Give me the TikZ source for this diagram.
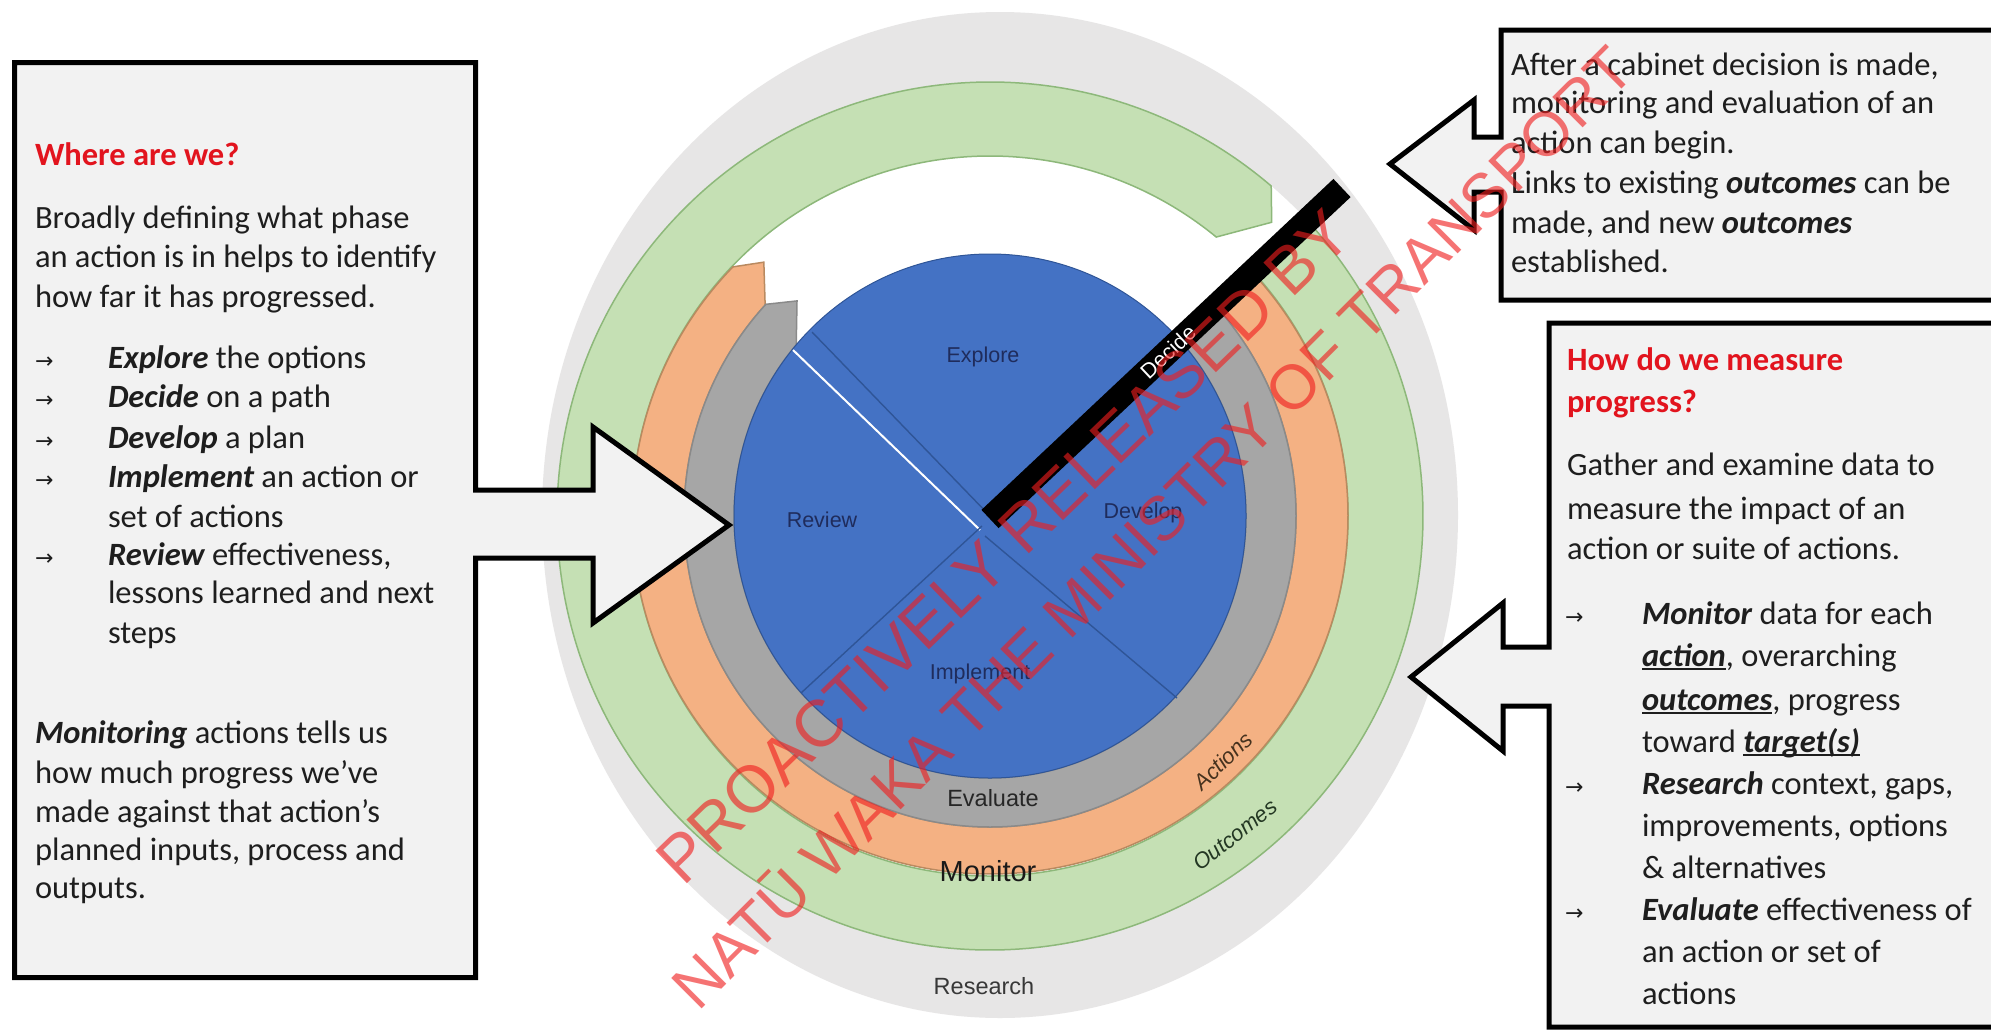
\documentclass[tikz,border=0pt]{standalone}
\usepackage{fontspec}
\setmainfont{Carlito}
\newfontfamily\arialf{Liberation Sans}
\newfontfamily\arrowf{DejaVu Sans}
\definecolor{boxfill}{HTML}{F2F2F2}
\definecolor{resgrey}{HTML}{E7E6E6}
\definecolor{outgreen}{HTML}{C5E0B4}
\definecolor{outgreenb}{HTML}{8DB87A}
\definecolor{actorange}{HTML}{F4B183}
\definecolor{actorangeb}{HTML}{B98A60}
\definecolor{evgrey}{HTML}{A6A6A6}
\definecolor{evgreyb}{HTML}{8A8A8A}
\definecolor{phblue}{HTML}{4472C4}
\definecolor{phblueb}{HTML}{2F5597}
\definecolor{navy}{HTML}{1F2C5C}
\definecolor{headred}{HTML}{E2141E}
\definecolor{bodytxt}{HTML}{1E1E1E}
\definecolor{wmred}{HTML}{F01E1E}
\newlength\ulw
\newcommand\myul[1]{\settowidth\ulw{#1}\rlap{\rule[-4pt]{\ulw}{2.2pt}}#1}
\newcommand\bi[1]{{\bfseries\itshape #1}}
\tikzset{
  txt/.style={anchor=base west, inner sep=0pt, outer sep=0pt, text=bodytxt, font=\fontsize{32.5}{39}\selectfont},
  hd/.style={txt, text=headred, font=\fontsize{32.5}{39}\selectfont\bfseries},
  arw/.style={anchor=base west, inner sep=0pt, text=bodytxt, font=\arrowf\fontsize{22}{26}\selectfont},
  phase/.style={inner sep=0pt, text=navy, font=\arialf\fontsize{21.5}{26}\selectfont},
  ringlab/.style={inner sep=0pt, font=\arialf\fontsize{23.5}{28}\selectfont},
  wm/.style={anchor=base, inner sep=0pt, text=wmred, text opacity=0.62, font=\arialf\fontsize{64}{70}\selectfont},
  boxline/.style={draw=black, line width=5pt, fill=boxfill, line join=miter, miter limit=10},
  ringedge/.style={line width=1.5pt, line join=miter}
}
\begin{document}
\begin{tikzpicture}[x=1pt,y=1pt]
\fill[white] (0,0) rectangle (1991,-1031);
\useasboundingbox (0,0) rectangle (1991,-1031);
\clip (0,0) rectangle (1991,-1031);

% Research ellipse
\fill[resgrey] (1000,-515) ellipse [x radius=458, y radius=503];

\begin{scope}[shift={(990,-516)}]
  % white interior
  \fill[white] (0,0) ellipse [x radius=433, y radius=434];
  % Outcomes ring (green)
  \path[ringedge, fill=outgreen, draw=outgreenb]
    (49.5:433 and 434) arc[start angle=49.5, end angle=403, x radius=433, y radius=434]
    -- (403:358 and 360) arc[start angle=403, end angle=50.8, x radius=358, y radius=360]
    -- (46.2:407) -- cycle;
  % Actions ring (orange)
  \path[ringedge, fill=actorange, draw=actorangeb]
    (135.9:358 and 358) arc[start angle=135.9, end angle=403, x radius=358, y radius=358]
    -- (403:306 and 311) arc[start angle=403, end angle=137.3, x radius=306, y radius=311]
    -- (131.7:340) -- cycle;
  % Evaluate ring (grey)
  \path[ringedge, fill=evgrey, draw=evgreyb]
    (137.1:306 and 311) arc[start angle=137.1, end angle=403, x radius=306, y radius=311]
    -- (403:256 and 262) arc[start angle=403, end angle=139.2, x radius=256, y radius=262]
    -- (131.9:289) -- cycle;
  % Phase disc
  \fill[phblue] (0,0) ellipse [x radius=256, y radius=262];
  \draw[phblueb, line width=1pt] (0,0) ellipse [x radius=256, y radius=262];
  \draw[phblueb, line width=1.4pt] (-178,184) -- (0,0);
  \draw[white, line width=2pt] (-197,166) -- (-10,-14);
  \draw[phblueb, line width=1.4pt] (-8,-10) -- (-189,-177);
  \draw[phblueb, line width=1.4pt] (-5,-20) -- (187,-182);
  % Decide bar
  \draw[black, line width=25pt] (0,-3) -- (352,328);
\end{scope}

% labels in the circle
\node[phase] (explore) at (983,-357) {Explore};
\node[phase] (review) at (822,-520) {Review};
\node[phase] (develop) at (1143,-513) {Develop};
\node[phase] (implement) at (980,-674) {Implement};
\node[inner sep=0pt, text=white, rotate=43.2, font=\arialf\fontsize{21.5}{25}\selectfont] (decide) at (1168,-352) {Decide};
\node[ringlab, text=black!85] (evaluate) at (993,-798) {Evaluate};
\node[ringlab, text=black!90, font=\arialf\fontsize{29}{33}\selectfont] (monitor) at (988,-871) {Monitor};
\node[ringlab, text=black!78] (research) at (984,-986) {Research};
\node[ringlab, text={rgb,255:red,70;green,50;blue,30}, rotate=44, font=\arialf\itshape\fontsize{22}{26}\selectfont] (actions) at (1223,-761) {Actions};
\node[ringlab, text={rgb,255:red,35;green,55;blue,35}, rotate=38, font=\arialf\itshape\fontsize{22}{26}\selectfont] (outcomes) at (1235,-835) {Outcomes};

% Left box with arrow
\path[boxline] (14.5,-62.5) -- (475.5,-62.5) -- (475.5,-490) -- (593,-490) -- (593,-427)
  -- (729,-525) -- (593,-623) -- (593,-558) -- (475.5,-558) -- (475.5,-977.5) -- (14.5,-977.5) -- cycle;
% Top right box with arrow
\path[boxline] (1501,-30) -- (1501,-137) -- (1474,-137) -- (1474,-100) -- (1390,-164)
  -- (1474,-230) -- (1474,-192) -- (1501,-192) -- (1501,-300) -- (2010,-300) -- (2010,-30) -- cycle;
% Bottom right box with arrow
\path[boxline] (1549,-323) -- (2010,-323) -- (2010,-1027) -- (1549,-1027) -- (1549,-706)
  -- (1503,-706) -- (1503,-751) -- (1411,-677) -- (1503,-603) -- (1503,-647) -- (1549,-647) -- cycle;

% Left box text
\node[hd] (lh) at (35,-165) {Where are we?};
\node[txt] (l1) at (35,-228) {Broadly defining what phase};
\node[txt] (l2) at (35,-267) {an action is in helps to identify};
\node[txt] (l3) at (35,-307) {how far it has progressed.};
\node[arw] (la1) at (35,-368) {→};
\node[txt] (l4) at (108,-368) {\bi{Explore} the options};
\node[arw] (la2) at (35,-407) {→};
\node[txt] (l5) at (108,-407) {\bi{Decide} on a path};
\node[arw] (la3) at (35,-448) {→};
\node[txt] (l6) at (108,-448) {\bi{Develop} a plan};
\node[arw] (la4) at (35,-487) {→};
\node[txt] (l7) at (108,-487) {\bi{Implement} an action or};
\node[txt] (l8) at (108,-527) {set of actions};
\node[arw] (la5) at (35,-565) {→};
\node[txt] (l9) at (108,-565) {\bi{Review} effectiveness,};
\node[txt] (l10) at (108,-603) {lessons learned and next};
\node[txt] (l11) at (108,-643) {steps};
\node[txt] (l12) at (35,-743) {\bi{Monitoring} actions tells us};
\node[txt] (l13) at (35,-783) {how much progress we’ve};
\node[txt] (l14) at (35,-822) {made against that action’s};
\node[txt] (l15) at (35,-860) {planned inputs, process and};
\node[txt] (l16) at (35,-898) {outputs.};

% Top right text
\node[txt] (t1) at (1511,-75) {After a cabinet decision is made,};
\node[txt] (t2) at (1511,-113) {monitoring and evaluation of an};
\node[txt] (t3) at (1511,-153) {action can begin.};
\node[txt] (t4) at (1511,-193) {Links to existing \bi{outcomes} can be};
\node[txt] (t5) at (1511,-233) {made, and new \bi{outcomes}};
\node[txt] (t6) at (1511,-272) {established.};

% Bottom right text
\node[hd] (rh1) at (1567,-370) {How do we measure};
\node[hd] (rh2) at (1567,-412) {progress?};
\node[txt] (r1) at (1567,-475) {Gather and examine data to};
\node[txt] (r2) at (1567,-519) {measure the impact of an};
\node[txt] (r3) at (1567,-559) {action or suite of actions.};
\node[arw] (ra1) at (1565,-624) {→};
\node[txt] (r4) at (1642,-624) {\bi{Monitor} data for each};
\node[txt] (r5) at (1642,-666) {\myul{\bi{action}}, overarching};
\node[txt] (r6) at (1642,-710) {\myul{\bi{outcomes}}, progress};
\node[txt] (r7) at (1642,-752) {toward \myul{\bi{target(s)}}};
\node[arw] (ra2) at (1565,-794) {→};
\node[txt] (r8) at (1642,-794) {\bi{Research} context, gaps,};
\node[txt] (r9) at (1642,-836) {improvements, options};
\node[txt] (r10) at (1642,-878) {\& alternatives};
\node[arw] (ra3) at (1565,-920) {→};
\node[txt] (r11) at (1642,-920) {\bi{Evaluate} effectiveness of};
\node[txt] (r12) at (1642,-962) {an action or set of};
\node[txt] (r13) at (1642,-1004) {actions};

% Watermark
\node[wm, rotate=44, font=\arialf\fontsize{66}{72}\selectfont] (wm1) at (1019,-563) {PROACTIVELY RELEASED BY};
\node[wm, rotate=45, font=\arialf\fontsize{62.5}{70}\selectfont] (wm2) at (1168,-543) {NATŪ WAKA THE MINISTRY OF TRANSPORT};
\end{tikzpicture}
\end{document}
